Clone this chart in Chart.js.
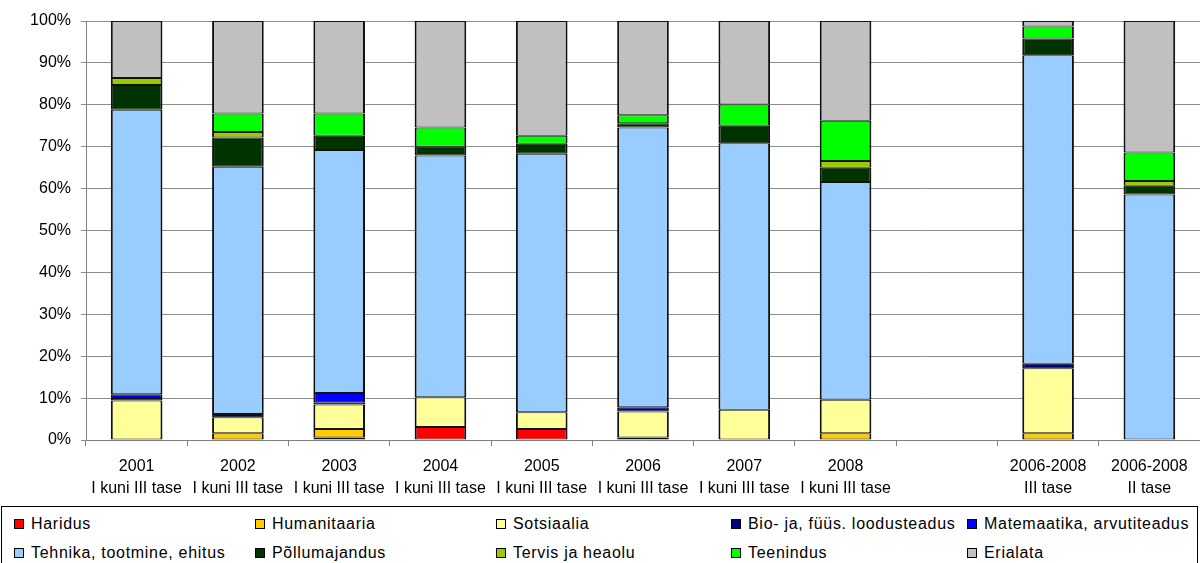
<!DOCTYPE html>
<html>
<head>
<meta charset="utf-8">
<script src="https://cdn.jsdelivr.net/npm/chart.js@4/dist/chart.umd.min.js"></script>
<style>
    body { margin: 0; background: #fff; font-family: "Liberation Sans", Arial, sans-serif; }
    #wrap { position: relative; width: 1200px; height: 563px; overflow: hidden; }
    #chartBox { position: absolute; left: 0; top: 0; width: 1200px; height: 500px; }
    #legend {
        position: absolute; left: 1px; top: 506px; width: 1197px; height: 58px;
        border: 1px solid #000; box-sizing: border-box;
        display: grid; grid-template-columns: 241px 241px 235px 236px 230px;
        grid-template-rows: 29px 29px; padding: 2px 0 0 12px;
        font-size: 16px; letter-spacing: 0.7px; color: #000;
    }
    .item { display: flex; align-items: center; white-space: nowrap; }
    .mark { width: 8px; height: 8px; border: 1px solid #000; margin-right: 7px; flex: none; }
</style>
</head>
<body>
<div id="wrap">
    <div id="chartBox"><canvas id="chart"></canvas></div>
    <div id="legend"></div>
</div>
<script>
// Categories (empty slot between 2008 and the 2006-2008 groups)
const categories = [
    ['2001', 'I kuni III tase'], ['2002', 'I kuni III tase'], ['2003', 'I kuni III tase'],
    ['2004', 'I kuni III tase'], ['2005', 'I kuni III tase'], ['2006', 'I kuni III tase'],
    ['2007', 'I kuni III tase'], ['2008', 'I kuni III tase'], ['', ''],
    ['2006-2008', 'III tase'], ['2006-2008', 'II tase']
];

const seriesNames = [
    'Haridus', 'Humanitaaria', 'Sotsiaalia', 'Bio- ja, füüs. loodusteadus', 'Matemaatika, arvutiteadus',
    'Tehnika, tootmine, ehitus', 'Põllumajandus', 'Tervis ja heaolu', 'Teenindus', 'Erialata'
];
const seriesColors = [
    '#FF0000', '#FFCC00', '#FFFF99', '#000080', '#0000FF',
    '#99CCFF', '#003300', '#99CC00', '#00FF00', '#C0C0C0'
];

// Shares in % per category
const haridus      = [0,    0,    0.6,  3.1,  2.6,  0,    0,    0,    null, 0,    0];
const humanitaaria = [0,    1.6,  2.0,  0,    0,    0.6,  0,    1.6,  null, 1.6,  0];
const sotsiaalia   = [9.4,  3.8,  5.9,  7.1,  4.0,  6.2,  7.2,  8.0,  null, 15.5, 0];
const bio          = [0.6,  0.8,  0.5,  0,    0,    1.0,  0,    0,    null, 1.1,  0];
const matemaatika  = [0.9,  0,    2.2,  0,    0,    0,    0,    0,    null, 0,    0];
const tehnika      = [67.9, 59.0, 58.0, 57.7, 61.7, 66.8, 63.6, 52.0, null, 73.6, 58.6];
const pollumaj     = [5.9,  7.0,  3.4,  2.1,  2.4,  1.0,  4.2,  3.4,  null, 4.0,  2.1];
const tervis       = [1.7,  1.3,  0,    0,    0,    0,    0,    1.6,  null, 0,    1.1];
const teenindus    = [0,    4.4,  5.3,  4.6,  1.9,  1.9,  5.1,  9.6,  null, 2.9,  6.8];
const erialata     = [13.6, 22.1, 22.1, 25.4, 27.4, 22.5, 19.9, 23.8, null, 1.3,  31.4];

const seriesData = [haridus, humanitaaria, sotsiaalia, bio, matemaatika,
    tehnika, pollumaj, tervis, teenindus, erialata];

const yTicks = [0, 10, 20, 30, 40, 50, 60, 70, 80, 90, 100];

const datasets = seriesNames.map((name, i) => ({
    label: name,
    data: seriesData[i],
    backgroundColor: seriesColors[i],
    borderColor: '#111',
    borderWidth: { top: 1, bottom: 1, left: 2, right: 2 },
    borderSkipped: false,
    categoryPercentage: 1,
    barPercentage: 0.51
}));

const font = { family: '"Liberation Sans", Arial, sans-serif', size: 16 };

new Chart(document.getElementById('chart'), {
    type: 'bar',
    data: { labels: categories, datasets: datasets },
    options: {
        responsive: true,
        maintainAspectRatio: false,
        animation: false,
        layout: { padding: { top: 21, right: 0, left: 0, bottom: 0 } },
        plugins: { legend: { display: false }, tooltip: { enabled: false } },
        scales: {
            x: {
                stacked: true,
                grid: { drawOnChartArea: false, drawTicks: true, tickLength: 6, color: '#808080', offset: true },
                border: { color: '#808080', width: 1 },
                ticks: { color: '#000', font: { ...font, lineHeight: 1.4 }, padding: 9, maxRotation: 0, autoSkip: false },
                afterFit: scale => { scale.height = 60; }
            },
            y: {
                stacked: true,
                min: 0,
                max: 100,
                afterBuildTicks: scale => { scale.ticks = yTicks.map(v => ({ value: v })); },
                grid: { color: '#8c8c8c', lineWidth: 1, tickLength: 5 },
                border: { color: '#808080', width: 1 },
                ticks: { color: '#000', font: font, padding: 10, callback: v => v + '%' },
                afterFit: scale => { scale.width = 86; }
            }
        }
    }
});

// Legend laid out as in the reference: 2 rows of 5
const legend = document.getElementById('legend');
seriesNames.forEach((name, i) => {
    const item = document.createElement('div');
    item.className = 'item';
    item.innerHTML = `<span class="mark" style="background:${seriesColors[i]}"></span>${name}`;
    legend.appendChild(item);
});
</script>
</body>
</html>
